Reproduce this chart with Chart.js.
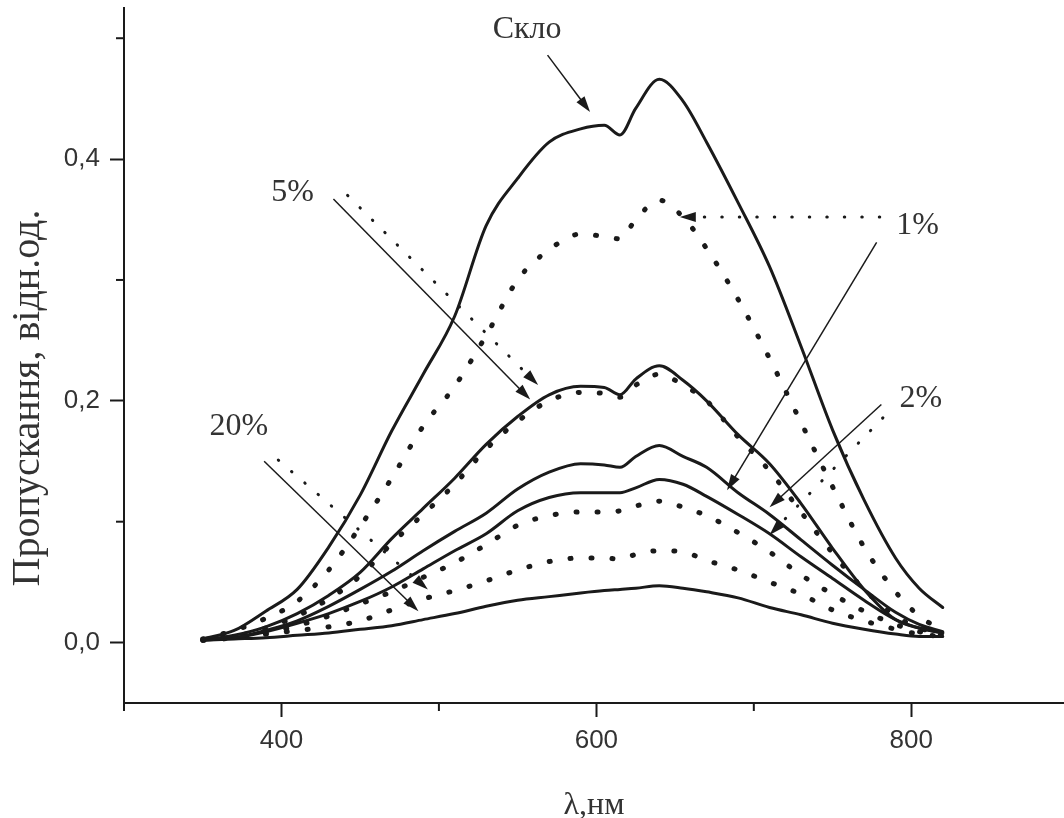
<!DOCTYPE html>
<html>
<head>
<meta charset="utf-8">
<script src="https://cdn.jsdelivr.net/npm/chart.js@4.4.1/dist/chart.umd.min.js"></script>
<style>
  html, body { margin: 0; padding: 0; background: #fff; overflow: hidden; }
  canvas { display: block; }
</style>
</head>
<body>
<canvas id="grafico" width="1064" height="818"></canvas>
<script>
// довжина хвилі, нм
const longitudes = [350, 370, 390, 410, 430, 450, 470, 490, 510, 530, 550, 570, 590, 605, 615, 625, 640, 655, 670, 690, 710, 730, 750, 770, 790, 805, 820];

// суцільні криві
const sklo     = [0.003, 0.010, 0.026, 0.044, 0.079, 0.122, 0.175, 0.222, 0.270, 0.345, 0.384, 0.414, 0.425, 0.428, 0.420, 0.442, 0.466, 0.448, 0.414, 0.364, 0.311, 0.245, 0.176, 0.118, 0.070, 0.045, 0.029];
const solid5   = [0.002, 0.006, 0.013, 0.024, 0.039, 0.058, 0.086, 0.111, 0.136, 0.164, 0.187, 0.205, 0.212, 0.211, 0.205, 0.218, 0.229, 0.217, 0.200, 0.172, 0.148, 0.115, 0.078, 0.044, 0.019, 0.012, 0.008];
const solid1   = [0.002, 0.004, 0.010, 0.018, 0.030, 0.044, 0.059, 0.076, 0.092, 0.107, 0.127, 0.141, 0.148, 0.147, 0.145, 0.154, 0.163, 0.154, 0.145, 0.124, 0.106, 0.085, 0.064, 0.044, 0.025, 0.015, 0.009];
const solid2   = [0.002, 0.004, 0.009, 0.016, 0.024, 0.034, 0.046, 0.061, 0.076, 0.090, 0.109, 0.120, 0.124, 0.124, 0.124, 0.128, 0.135, 0.131, 0.121, 0.106, 0.090, 0.071, 0.053, 0.035, 0.019, 0.012, 0.008];
const solid20  = [0.002, 0.003, 0.004, 0.006, 0.008, 0.011, 0.014, 0.019, 0.024, 0.030, 0.035, 0.038, 0.041, 0.043, 0.044, 0.045, 0.047, 0.045, 0.042, 0.037, 0.029, 0.023, 0.016, 0.011, 0.007, 0.005, 0.005];

// пунктирні криві
const dotted1  = [0.003, 0.010, 0.020, 0.034, 0.060, 0.096, 0.136, 0.179, 0.212, 0.254, 0.300, 0.325, 0.338, 0.336, 0.334, 0.350, 0.366, 0.352, 0.326, 0.284, 0.235, 0.182, 0.129, 0.079, 0.042, 0.022, 0.010];
const dotted5  = [0.002, 0.005, 0.012, 0.022, 0.036, 0.055, 0.082, 0.106, 0.131, 0.160, 0.183, 0.200, 0.207, 0.206, 0.203, 0.213, 0.222, 0.213, 0.200, 0.170, 0.142, 0.108, 0.074, 0.044, 0.022, 0.012, 0.008];
const dotted2  = [0.002, 0.004, 0.008, 0.014, 0.022, 0.032, 0.042, 0.054, 0.066, 0.081, 0.097, 0.105, 0.108, 0.108, 0.109, 0.113, 0.117, 0.112, 0.105, 0.091, 0.075, 0.056, 0.040, 0.026, 0.015, 0.009, 0.006];
const dotted20 = [0.002, 0.004, 0.007, 0.010, 0.013, 0.018, 0.027, 0.036, 0.043, 0.051, 0.060, 0.067, 0.070, 0.070, 0.069, 0.073, 0.076, 0.075, 0.068, 0.060, 0.050, 0.040, 0.027, 0.018, 0.011, 0.007, 0.005];

// мітки осей
const ticksX = [400, 600, 800];
const minorX = [300, 500, 700];
const ticksY = [0, 0.2, 0.4];
const minorY = [0.1, 0.3, 0.5];
const titleY = 'Пропускання, відн.од.';

// підписи та стрілки (в координатах даних)
const labels = [
  { text: 'Скло', x: 556, y: 0.507 },
  { text: '5%', x: 407, y: 0.372 },
  { text: '1%', x: 804, y: 0.345 },
  { text: '2%', x: 806, y: 0.202 },
  { text: '20%', x: 373, y: 0.179 }
];
const arrows = [
  { from: [569, 0.486], to: [596, 0.439], dotted: false },
  { from: [433, 0.367], to: [558, 0.201], dotted: false },
  { from: [442, 0.370], to: [563, 0.213], dotted: true },
  { from: [780, 0.352], to: [653, 0.352], dotted: true },
  { from: [778, 0.331], to: [683, 0.126], dotted: false },
  { from: [781, 0.197], to: [710, 0.112], dotted: false },
  { from: [782, 0.186], to: [710, 0.089], dotted: true },
  { from: [389, 0.150], to: [487, 0.026], dotted: false },
  { from: [398, 0.151], to: [493, 0.044], dotted: true }
];

const ink = '#1a1a1a';

function curve(label, values, dotted) {
  return {
    label: label,
    data: values.map((v, i) => ({ x: longitudes[i], y: v })),
    borderColor: ink,
    borderWidth: dotted ? 5 : 3,
    borderDash: dotted ? [1, 20] : [],
    borderCapStyle: 'round',
    pointRadius: 0,
    fill: false,
    cubicInterpolationMode: 'monotone'
  };
}

const extras = {
  id: 'extras',
  afterDraw(chart) {
    const ctx = chart.ctx;
    const x = chart.scales.x;
    const y = chart.scales.y;
    ctx.save();

    // дрібні мітки
    ctx.strokeStyle = ink;
    ctx.lineWidth = 2;
    minorX.forEach(v => {
      const px = x.getPixelForValue(v);
      ctx.beginPath();
      ctx.moveTo(px, y.bottom);
      ctx.lineTo(px, y.bottom + 8);
      ctx.stroke();
    });
    minorY.forEach(v => {
      const py = y.getPixelForValue(v);
      ctx.beginPath();
      ctx.moveTo(x.left, py);
      ctx.lineTo(x.left - 8, py);
      ctx.stroke();
    });

    // стрілки
    arrows.forEach(a => {
      const x1 = x.getPixelForValue(a.from[0]), y1 = y.getPixelForValue(a.from[1]);
      const x2 = x.getPixelForValue(a.to[0]), y2 = y.getPixelForValue(a.to[1]);
      const ang = Math.atan2(y2 - y1, x2 - x1);
      const head = 16;
      ctx.strokeStyle = ink;
      ctx.fillStyle = ink;
      if (a.dotted) {
        ctx.lineWidth = 3;
        ctx.lineCap = 'round';
        ctx.setLineDash([0.5, 17]);
      } else {
        ctx.lineWidth = 1.5;
        ctx.lineCap = 'butt';
        ctx.setLineDash([]);
      }
      ctx.beginPath();
      ctx.moveTo(x1, y1);
      ctx.lineTo(x2 - head * 0.8 * Math.cos(ang), y2 - head * 0.8 * Math.sin(ang));
      ctx.stroke();
      ctx.setLineDash([]);
      ctx.beginPath();
      ctx.moveTo(x2, y2);
      ctx.lineTo(x2 - head * Math.cos(ang) + 5 * Math.sin(ang), y2 - head * Math.sin(ang) - 5 * Math.cos(ang));
      ctx.lineTo(x2 - head * Math.cos(ang) - 5 * Math.sin(ang), y2 - head * Math.sin(ang) + 5 * Math.cos(ang));
      ctx.closePath();
      ctx.fill();
    });

    // підписи
    ctx.font = '32px "Liberation Serif", "Times New Roman", serif';
    ctx.fillStyle = '#333';
    ctx.textAlign = 'center';
    ctx.textBaseline = 'middle';
    labels.forEach(l => {
      ctx.fillText(l.text, x.getPixelForValue(l.x), y.getPixelForValue(l.y));
    });

    // назва осі Y
    ctx.font = '40px "Liberation Serif", "Times New Roman", serif';
    ctx.translate(28, 398);
    ctx.rotate(-Math.PI / 2);
    ctx.fillText(titleY, 0, 0);
    ctx.restore();
  }
};

const ctxGrafico = document.getElementById('grafico').getContext('2d');

const grafico = new Chart(ctxGrafico, {
  type: 'line',
  data: {
    datasets: [
      curve('Скло', sklo, false),
      curve('5%', solid5, false),
      curve('1%', solid1, false),
      curve('2%', solid2, false),
      curve('20%', solid20, false),
      curve('1% (пункт.)', dotted1, true),
      curve('5% (пункт.)', dotted5, true),
      curve('2% (пункт.)', dotted2, true),
      curve('20% (пункт.)', dotted20, true)
    ]
  },
  options: {
    responsive: false,
    animation: false,
    layout: { padding: { top: 8, right: 0, left: 0, bottom: 0 } },
    plugins: {
      legend: { display: false },
      tooltip: { enabled: false }
    },
    scales: {
      x: {
        type: 'linear',
        min: 300,
        max: 897,
        afterBuildTicks: s => { s.ticks = ticksX.map(v => ({ value: v })); },
        afterFit: s => { s.height = 115; s.paddingLeft = 0; s.paddingRight = 0; },
        border: { display: true, color: ink, width: 2 },
        grid: { display: true, drawOnChartArea: false, drawTicks: true, tickLength: 14, tickWidth: 2, tickColor: ink },
        ticks: {
          color: '#333',
          padding: 8,
          font: { family: '"Liberation Sans", Arial, sans-serif', size: 26 },
          callback: v => String(v)
        },
        title: {
          display: true,
          text: 'λ,нм',
          color: '#333',
          padding: { top: 0, bottom: 0 },
          font: { family: '"Liberation Serif", "Times New Roman", serif', size: 32, lineHeight: 0.8 }
        }
      },
      y: {
        type: 'linear',
        min: -0.05,
        max: 0.525,
        afterBuildTicks: s => { s.ticks = ticksY.map(v => ({ value: v })); },
        afterFit: s => { s.width = 124; s.paddingTop = 0; s.paddingBottom = 0; },
        border: { display: true, color: ink, width: 2 },
        grid: { display: true, drawOnChartArea: false, drawTicks: true, tickLength: 14, tickWidth: 2, tickColor: ink },
        ticks: {
          color: '#333',
          padding: 10,
          font: { family: '"Liberation Sans", Arial, sans-serif', size: 26 },
          callback: v => v.toFixed(1).replace('.', ',')
        }
      }
    }
  },
  plugins: [extras]
});
</script>
</body>
</html>
